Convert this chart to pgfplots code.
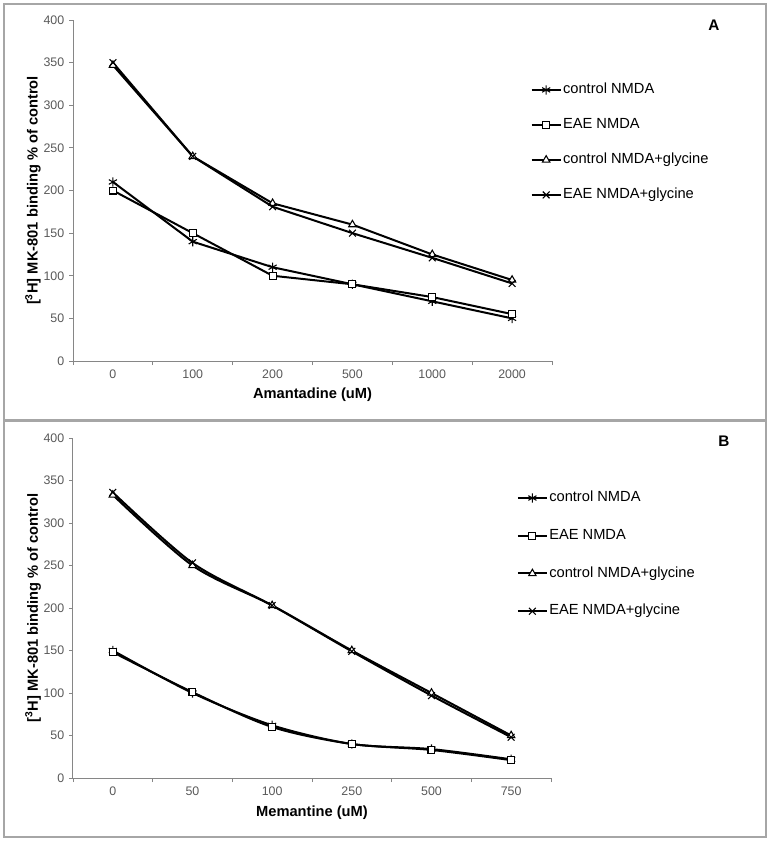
\documentclass[border=0pt]{standalone}
\usepackage{fontspec}
\setmainfont{Liberation Sans}
\usepackage{pgfplots}
\pgfplotsset{compat=1.18}
\definecolor{axgray}{HTML}{868686}
\definecolor{tickgray}{HTML}{595959}
\definecolor{boxgray}{HTML}{A6A6A6}
\pgfplotsset{
  common/.style={
    scale only axis, anchor=south west, clip=false,
    xmin=-0.5, xmax=5.5, ymin=0, ymax=400,
    axis x line*=bottom, axis y line*=left,
    axis line style={-, draw=axgray, line width=0.75pt},
    xtick={-0.5,0.5,1.5,2.5,3.5,4.5,5.5},
    x tick label as interval,
    ytick={0,50,...,400},
    tick align=outside, major tick length=3pt,
    tick style={draw=axgray, line width=0.6pt},
    /pgf/number format/assume math mode=true,
    ticklabel style={font=\fontsize{9.3}{11}\selectfont, text=tickgray},
    xlabel style={at={(axis description cs:0.5,-0.1)}, anchor=center, font=\fontsize{11}{13}\selectfont\bfseries},
    ylabel style={at={(axis description cs:-0.0835,0.5)}, anchor=center, rotate=0, font=\fontsize{11}{13}\selectfont\bfseries},
    ylabel={[\textsuperscript{3}H] MK-801 binding \% of control},
    every axis plot/.append style={line width=1.5pt, black},
    legend style={draw=none, fill=none, at={(axis description cs:0.9548,0.641)}, anchor=west,
      inner sep=0pt, row sep=11.75pt, font=\fontsize{11}{13}\selectfont,
      nodes={text height=8pt, text depth=2.5pt, inner xsep=1pt, inner ysep=2pt}},
    legend cell align=left,
    legend image code/.code={\draw[mark repeat=2, mark phase=2, #1] plot coordinates {(0cm,0cm) (0.3835cm,0cm) (0.767cm,0cm)};},
  },
  mA/.style={mark=asterisk, mark size=3.5pt, mark options={solid, line width=0.8pt}},
  mS/.style={mark=square*, mark size=2.6pt, mark options={solid, line width=0.8pt, fill=white}},
  mT/.style={mark=triangle*, mark size=3.2pt, mark options={solid, line width=0.8pt, fill=white}},
  mX/.style={mark=x, mark size=3.6pt, mark options={solid, line width=0.8pt}},
}
\begin{document}
\begin{tikzpicture}
\path[use as bounding box] (0,0) rectangle (578.25pt,-631.5pt);
\draw[boxgray, line width=1.5pt] (3pt,-3pt) rectangle (574.5pt,-315pt);
\draw[boxgray, line width=1.5pt] (3pt,-315.75pt) rectangle (574.5pt,-627.75pt);
\node[font=\fontsize{11.5}{13}\selectfont\bfseries] at (535.5pt,-18.75pt) {A};
\node[font=\fontsize{11.5}{13}\selectfont\bfseries] at (543pt,-330.75pt) {B};

\begin{axis}[common, at={(54.75pt,-270.75pt)}, width=359.25pt, height=255.75pt,
  xticklabels={0,100,200,500,1000,2000}, xlabel={Amantadine (uM)}]
\addplot[mA] coordinates {(0,210) (1,140) (2,110) (3,90) (4,70) (5,50)};
\addplot[mS] coordinates {(0,200) (1,150) (2,100) (3,90) (4,75) (5,55)};
\addplot[mT] coordinates {(0,347) (1,240) (2,185) (3,160) (4,125) (5,95)};
\addplot[mX] coordinates {(0,350) (1,240) (2,181) (3,150) (4,121) (5,91)};
\legend{control NMDA, EAE NMDA, control NMDA+glycine, EAE NMDA+glycine}
\end{axis}

\begin{axis}[common, at={(54.75pt,-583.5pt)}, width=358.5pt, height=255pt,
  xticklabels={0,50,100,250,500,750}, xlabel={Memantine (uM)},
  xlabel style={at={(axis description cs:0.5,-0.103)}},
  legend style={at={(axis description cs:0.928,0.657)}, row sep=13.8pt}]
\addplot[mA, smooth] coordinates {(0,150) (1,100) (2,62) (3,40) (4,34) (5,22)};
\addplot[mS, smooth] coordinates {(0,148) (1,101) (2,60) (3,40) (4,33) (5,21)};
\addplot[mT, smooth] coordinates {(0,333) (1,250) (2,203) (3,150) (4,100) (5,50)};
\addplot[mX, smooth] coordinates {(0,336) (1,253) (2,203) (3,149) (4,97) (5,48)};
\legend{control NMDA, EAE NMDA, control NMDA+glycine, EAE NMDA+glycine}
\end{axis}
\end{tikzpicture}
\end{document}
